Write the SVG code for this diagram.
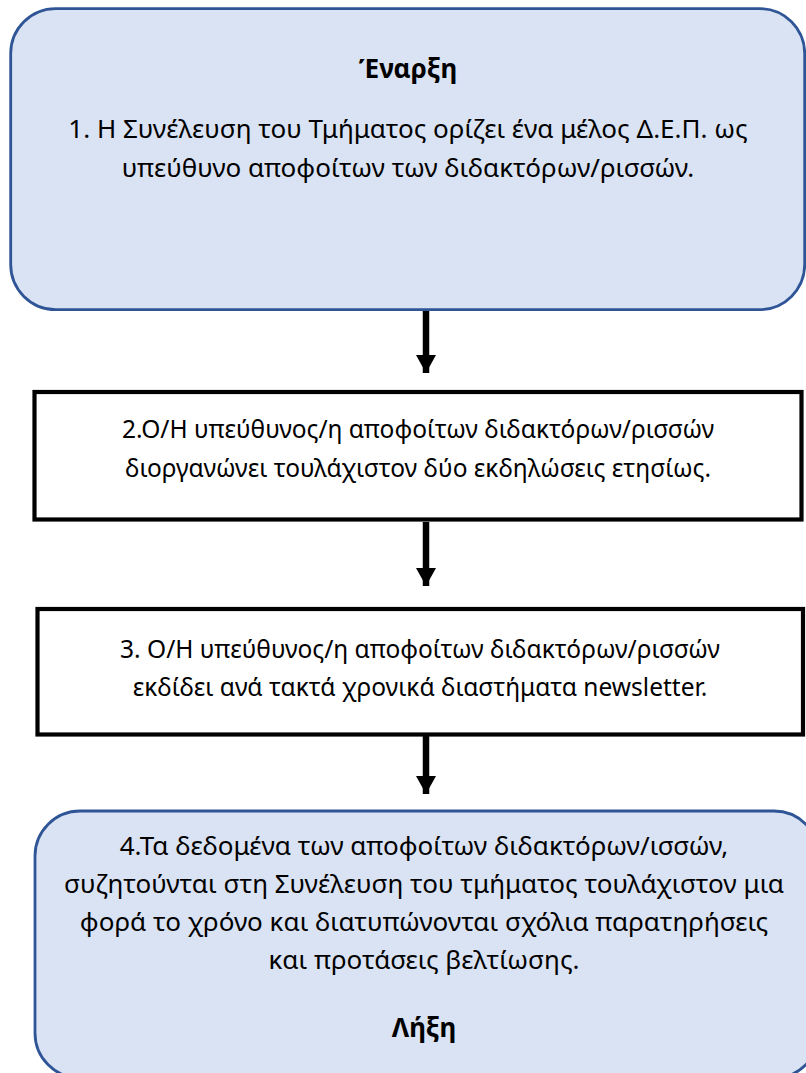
<svg xmlns="http://www.w3.org/2000/svg" width="806" height="1073" viewBox="0 0 806 1073">
<style>
.t{font-family:"Noto Sans","Open Sans","DejaVu Sans",sans-serif;font-size:26px;fill:#000;text-anchor:middle}
.s{font-size:24.5px}
.b{font-weight:bold}
.rnd{fill:#DAE3F3;stroke:#2F5597;stroke-width:2.8}
.sq{fill:#fff;stroke:#000;stroke-width:4.2}
.arr{stroke:#000;stroke-width:6.5;fill:none}
</style>
<defs>
<marker id="ah" markerUnits="userSpaceOnUse" markerWidth="22" markerHeight="20" refX="18" refY="10" orient="auto">
<path d="M0,0 L18,10 L0,20 Z" fill="#000"/>
</marker>
</defs>
<rect width="806" height="1073" fill="#fff"/>
<g id="connectors">
<line class="arr" x1="426" y1="311" x2="426" y2="373" marker-end="url(#ah)"/>
<line class="arr" x1="426" y1="522" x2="426" y2="586" marker-end="url(#ah)"/>
<line class="arr" x1="426" y1="736" x2="426" y2="794" marker-end="url(#ah)"/>
</g>
<g id="node1">
<rect class="rnd" x="10.7" y="8.6" width="794" height="301" rx="45" ry="45"/>
<text class="t b" x="408" y="78">Έναρξη</text>
<text class="t" x="408" y="138">1. Η Συνέλευση του Τμήματος ορίζει ένα μέλος Δ.Ε.Π. ως</text>
<text class="t" x="408" y="177">υπεύθυνο αποφοίτων των διδακτόρων/ρισσών.</text>
</g>
<g id="node2">
<rect class="sq" x="34.5" y="392" width="767" height="127.5"/>
<text class="t s" x="418" y="438">2.Ο/Η υπεύθυνος/η αποφοίτων διδακτόρων/ρισσών</text>
<text class="t s" x="418" y="477">διοργανώνει τουλάχιστον δύο εκδηλώσεις ετησίως.</text>
</g>
<g id="node3">
<rect class="sq" x="37.5" y="609" width="765.5" height="125.5"/>
<text class="t s" x="420" y="658">3. Ο/Η υπεύθυνος/η αποφοίτων διδακτόρων/ρισσών</text>
<text class="t s" x="420" y="696">εκδίδει ανά τακτά χρονικά διαστήματα newsletter.</text>
</g>
<g id="node4">
<rect class="rnd" x="35" y="811" width="784" height="267" rx="45" ry="45"/>
<text class="t" x="424" y="855">4.Τα δεδομένα των αποφοίτων διδακτόρων/ισσών,</text>
<text class="t" x="424" y="893">συζητούνται στη Συνέλευση του τμήματος τουλάχιστον μια</text>
<text class="t" x="424" y="931">φορά το χρόνο και διατυπώνονται σχόλια παρατηρήσεις</text>
<text class="t" x="424" y="969">και προτάσεις βελτίωσης.</text>
<text class="t b" x="424" y="1037">Λήξη</text>
</g>
</svg>
